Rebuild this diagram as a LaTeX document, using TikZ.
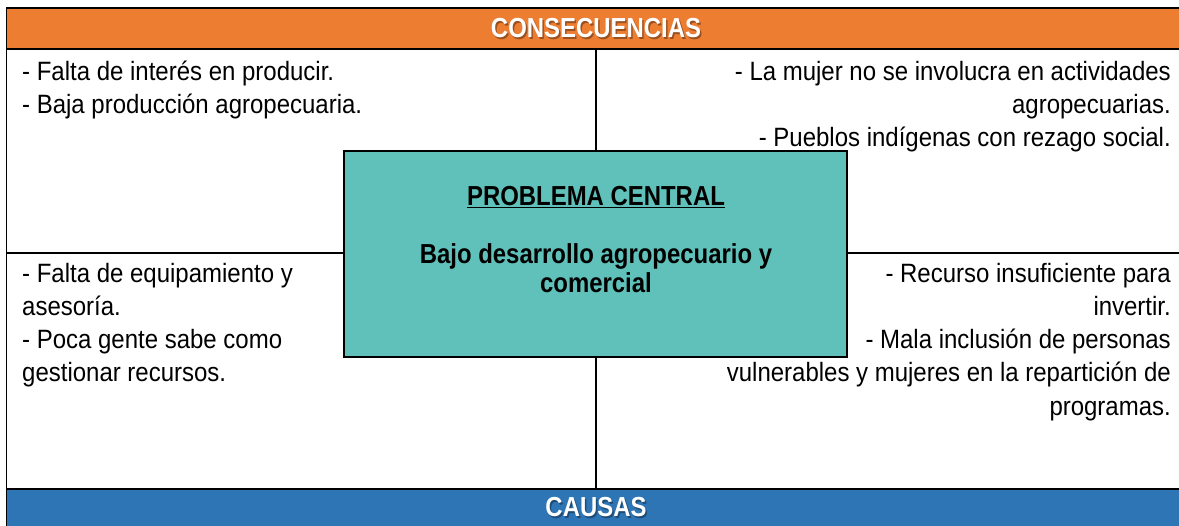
\documentclass[tikz,border=0pt]{standalone}
\usepackage{fontspec}
\setmainfont{Liberation Sans}
\newfontfamily\condf[FakeStretch=0.87]{Liberation Sans}
\newfontfamily\bodyf[FakeStretch=0.905]{Liberation Sans}
\definecolor{hdorange}{HTML}{ED7D31}
\definecolor{hdblue}{HTML}{2E75B6}
\definecolor{cteal}{HTML}{5FC1BA}
\tikzset{
  body/.style={inner sep=0pt, font=\bodyf\fontsize{26.5}{33.3}\selectfont},
  bodyl/.style={body, anchor=north west, align=left},
  bodyr/.style={body, anchor=north east, align=right},
  hdtext/.style={inner sep=0pt, anchor=base, text=white, font=\condf\bfseries\fontsize{27.5}{29}\selectfont},
  hdshadow/.style={hdtext, text=black, opacity=0.35},
  ctext/.style={inner sep=0pt, anchor=base, font=\condf\bfseries\fontsize{27.5}{29}\selectfont},
  gridline/.style={line width=1.6pt, black},
  cbox/.style={draw=black, line width=2pt, fill=cteal, inner sep=0pt}
}
\begin{document}
\begin{tikzpicture}[x=1pt,y=-1pt]
\useasboundingbox (0,0) rectangle (1179,526);
% bands
\fill[hdorange] (6.5,8) rectangle (1190,49);
\fill[hdblue] (6.5,489) rectangle (1190,530);
% grid
\draw[gridline] (6.5,530) -- (6.5,8) -- (1190,8);
\draw[gridline] (6.5,49) -- (1190,49);
\draw[gridline] (6.5,253) -- (1190,253);
\draw[gridline] (6.5,489) -- (1190,489);
\draw[gridline] (596,49) -- (596,489);
% headings
\node[hdshadow] (hsh) at (597.5,39.5) {CONSECUENCIAS};
\node[hdtext] (hcons) at (596,38) {CONSECUENCIAS};
\node[hdshadow] (csh) at (597.5,518.5) {CAUSAS};
\node[hdtext] (hcaus) at (596,517) {CAUSAS};
% quadrant texts
\node[bodyl] (tl) at (22,56.5) {\strut- Falta de interés en producir.\\- Baja producción agropecuaria.};
\node[bodyr] (tr) at (1171,56.5) {\strut- La mujer no se involucra en actividades\\agropecuarias.\\- Pueblos indígenas con rezago social.};
\node[bodyl] (bl) at (22,258.5) {\strut- Falta de equipamiento y\\asesoría.\\- Poca gente sabe como\\gestionar recursos.};
\node[bodyr] (br) at (1171,258.5) {\strut- Recurso insuficiente para\\invertir.\\- Mala inclusión de personas\\vulnerables y mujeres en la repartición de\\programas.};
% central box
\node[cbox, minimum width=503pt, minimum height=206pt] (cb) at (595.5,254) {};
\node[ctext] (ptitle) at (596,205.5) {\underline{PROBLEMA CENTRAL}};
\node[ctext] (pl1) at (596,264) {Bajo desarrollo agropecuario y};
\node[ctext] (pl2) at (596,293) {comercial};
\end{tikzpicture}
\end{document}
